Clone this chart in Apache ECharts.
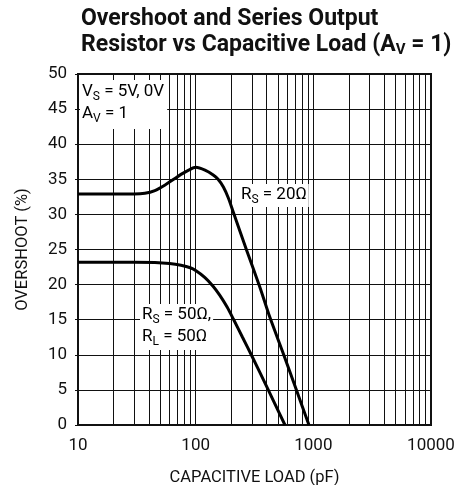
<!DOCTYPE html>
<html>
<head>
<meta charset="utf-8">
<script src="https://cdn.jsdelivr.net/npm/echarts@6/dist/echarts.min.js"></script>
<style>
  html, body { margin: 0; padding: 0; background: #fff; }
  #chart { width: 472px; height: 485px; }
</style>
</head>
<body>
<div id="chart"></div>
<script>
// Capacitive load (pF) and overshoot (%) for each series-resistor case
const capRs20 = [10, 20, 30, 37, 45, 55, 65, 75, 88, 100, 120, 141, 155, 172, 190, 209, 271, 352, 428, 555, 721, 918];
const overshootRs20 = [32.9, 32.9, 32.9, 33.0, 33.4, 34.2, 35.0, 35.7, 36.35, 36.7, 36.3, 35.6, 35.0, 33.9, 32.3, 30.3, 24.9, 19.6, 15.3, 10.2, 4.9, 0];

const capRs50 = [10, 20, 30, 45, 60, 75, 90, 100, 120, 140, 160, 185, 209, 250, 299, 414, 574];
const overshootRs50 = [23.2, 23.2, 23.2, 23.15, 23.0, 22.75, 22.4, 22.0, 21.0, 19.8, 18.5, 16.8, 15.1, 12.5, 9.9, 5, 0];

// Axis tick labels
const xTickLabels = ['10', '100', '1000', '10000'];

// Log-decade minor grid positions
const minorGridX = [20, 30, 40, 50, 60, 70, 80, 90,
                    200, 300, 400, 500, 600, 700, 800, 900,
                    2000, 3000, 4000, 5000, 6000, 7000, 8000, 9000];

const FONT = 'Roboto, "Liberation Sans", sans-serif';
const INK = '#111';

const chart = echarts.init(document.getElementById('chart'), null, { renderer: 'canvas' });

const pairs = (xs, ys) => xs.map((x, i) => [x, ys[i]]);

const labelRich = {
  m: { fontFamily: FONT, fontSize: 17, color: INK, lineHeight: 22 },
  s: { fontFamily: FONT, fontSize: 12, color: INK, lineHeight: 12, verticalAlign: 'bottom' }
};

chart.setOption({
  animation: false,
  backgroundColor: '#fff',
  title: {
    left: 76,
    top: 1,
    text: '{t|Overshoot and Series Output}\n{t|Resistor vs Capacitive Load (A}{ts|V}{t| = 1)}',
    textStyle: {
      rich: {
        t: { fontFamily: FONT, fontWeight: 'bold', fontSize: 23, color: INK, lineHeight: 26 },
        ts: { fontFamily: FONT, fontWeight: 'bold', fontSize: 15, color: INK, lineHeight: 14, verticalAlign: 'bottom' }
      }
    }
  },
  grid: {
    left: 78, right: 41, top: 74, bottom: 60,
    outerBoundsMode: 'none',
    containLabel: false,
    show: true, borderColor: INK, borderWidth: 2, backgroundColor: 'transparent'
  },
  xAxis: {
    type: 'log',
    logBase: 10,
    min: 10,
    max: 10000,
    name: 'CAPACITIVE LOAD (pF)',
    nameLocation: 'middle',
    nameGap: 44,
    nameTextStyle: { fontFamily: FONT, fontSize: 16.5, color: INK },
    axisLine: { show: true, lineStyle: { color: INK, width: 2 } },
    axisTick: { show: false },
    axisLabel: {
      fontFamily: FONT, fontSize: 17, color: INK, margin: 12,
      formatter: v => xTickLabels.find(t => Number(t) === Math.round(v)) || ''
    },
    splitLine: { show: true, lineStyle: { color: INK, width: 1 } },
    minorTick: { show: false },
    minorSplitLine: { show: false }
  },
  yAxis: {
    type: 'value',
    min: 0,
    max: 50,
    interval: 5,
    name: 'OVERSHOOT (%)',
    nameLocation: 'middle',
    nameGap: 47,
    nameTextStyle: { fontFamily: FONT, fontSize: 16.5, color: INK },
    axisLine: { show: true, lineStyle: { color: INK, width: 2 } },
    axisTick: { show: true, length: 3, lineStyle: { color: INK, width: 1 } },
    axisLabel: { fontFamily: FONT, fontSize: 17, color: INK, margin: 11 },
    splitLine: { show: true, lineStyle: { color: INK, width: 1 } }
  },
  series: [
    {
      name: 'grid',
      type: 'line',
      data: [],
      silent: true,
      z: 1,
      markLine: {
        silent: true,
        symbol: ['none', 'none'],
        label: { show: false },
        lineStyle: { color: INK, width: 1, type: 'solid' },
        emphasis: { disabled: true },
        data: minorGridX.map(v => ({ xAxis: v }))
      }
    },
    {
      name: 'RS = 20Ω',
      type: 'line',
      data: pairs(capRs20, overshootRs20),
      symbol: 'none',
      smooth: 0.25,
      lineStyle: { color: '#000', width: 3 },
      z: 5
    },
    {
      name: 'RS = 50Ω, RL = 50Ω',
      type: 'line',
      data: pairs(capRs50, overshootRs50),
      symbol: 'none',
      smooth: 0.25,
      lineStyle: { color: '#000', width: 3 },
      z: 5
    }
  ],
  graphic: [
    {
      type: 'text', left: 80, top: 80, z: 100,
      style: {
        text: '{m|V}{s|S}{m| = 5V, 0V}\n{m|A}{s|V}{m| = 1}',
        rich: labelRich,
        backgroundColor: '#fff',
        padding: [1, 3, 4, 2]
      }
    },
    {
      type: 'text', left: 238, top: 184, z: 100,
      style: {
        text: '{m|R}{s|S}{m| = 20Ω}',
        rich: labelRich,
        backgroundColor: '#fff',
        padding: [0, 2, 1, 3]
      }
    },
    {
      type: 'text', left: 140, top: 304, z: 100,
      style: {
        text: '{m|R}{s|S}{m| = 50Ω,}\n{m|R}{s|L}{m| = 50Ω}',
        rich: labelRich,
        backgroundColor: '#fff',
        padding: [0, 2, 2, 2]
      }
    }
  ]
});
</script>
</body>
</html>
